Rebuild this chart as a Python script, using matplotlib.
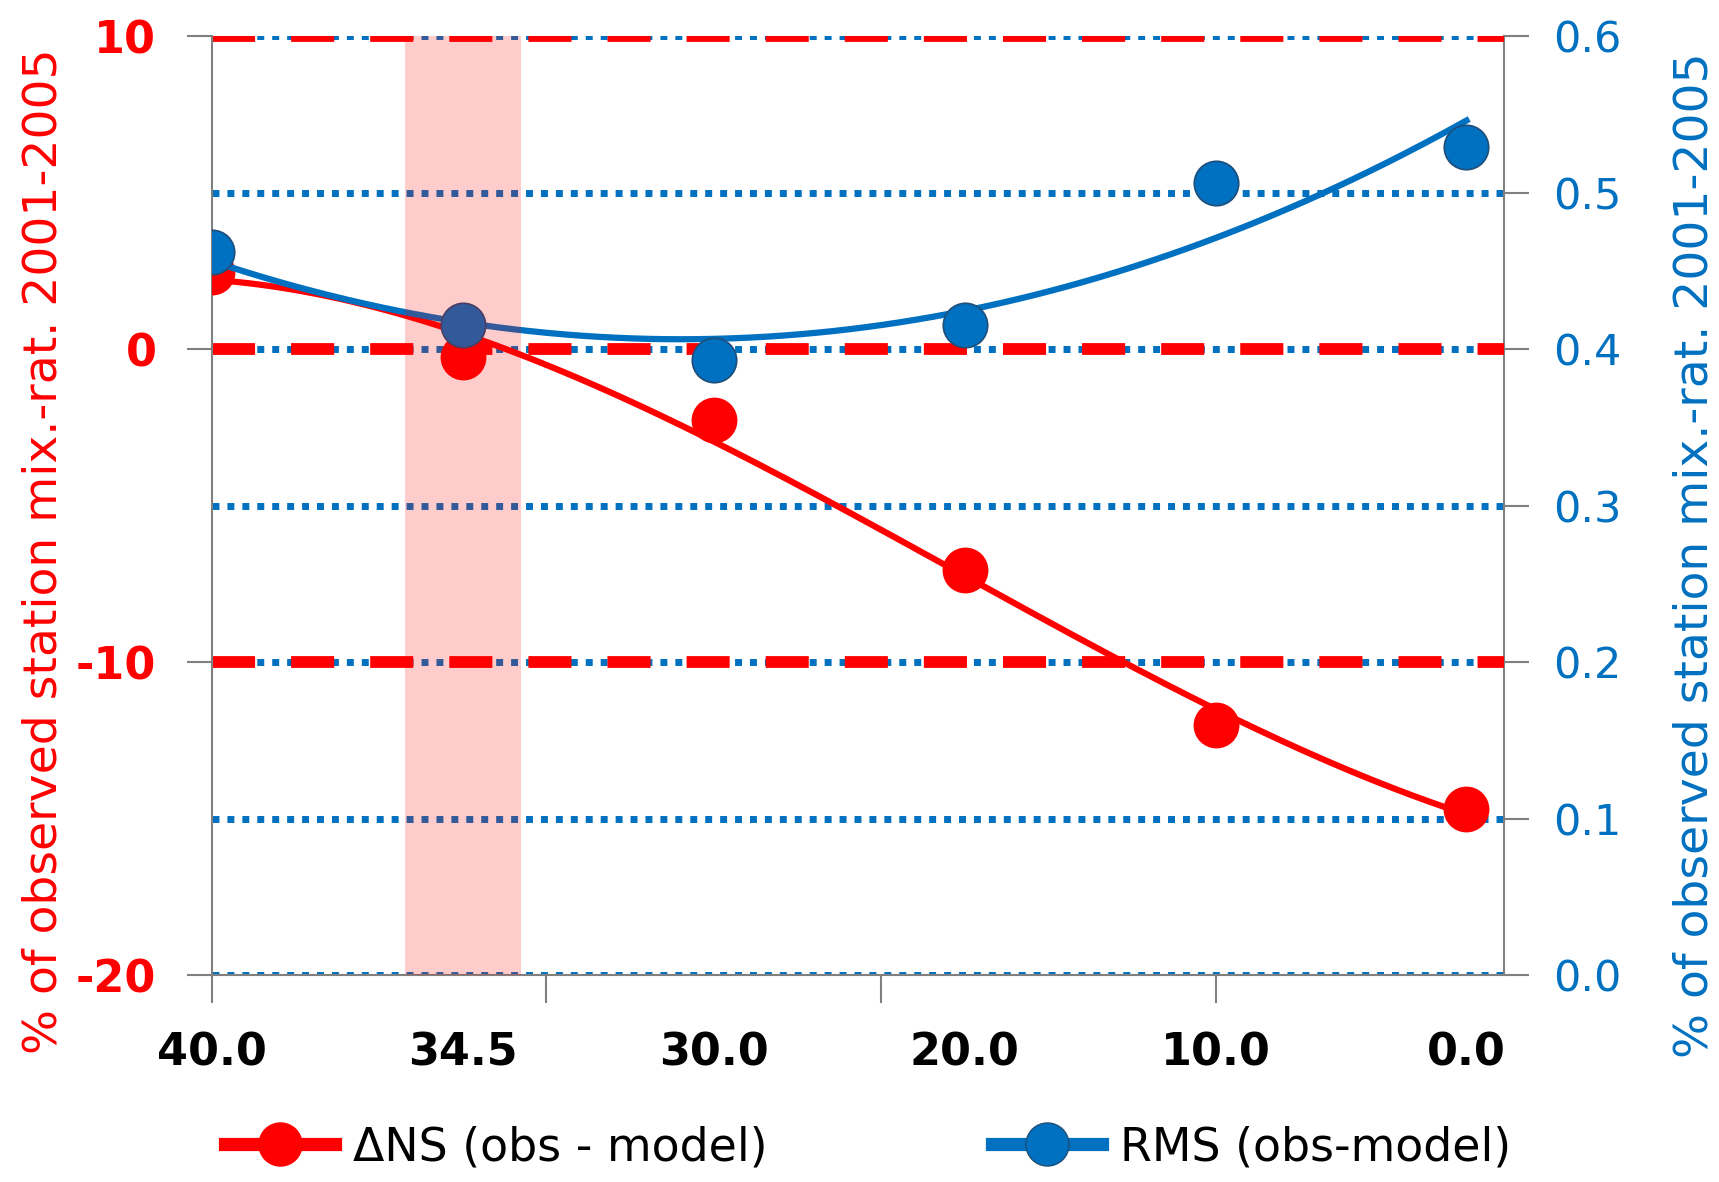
import numpy as np
import matplotlib
matplotlib.use("Agg")
import matplotlib.pyplot as plt
from matplotlib.lines import Line2D

# ---- data ----
x_labels = ["40.0", "34.5", "30.0", "20.0", "10.0", "0.0"]
x_pos = np.arange(len(x_labels))
dns = [2.45, -0.27, -2.28, -7.07, -12.02, -14.68]      # left axis, %
rms = [0.462, 0.4156, 0.393, 0.4156, 0.506, 0.529]     # right axis
shade_lo, shade_hi = 0.77, 1.23                        # highlighted band around 34.5
red_levels = [-10, 0, 10]                              # red dashed reference lines

RED = "#FF0000"
BLUE = "#0070C0"
GRAY = "#808080"

plt.rcParams['font.family'] = ['DejaVu Sans']
plt.rcParams['axes.unicode_minus'] = False

fig = plt.figure(figsize=(17.19, 11.82), dpi=100)
ax = fig.add_axes([0.1233, 0.1751, 0.7517, 0.7944])
ax2 = ax.twinx()
ax3 = ax.twinx()
ax2.set_zorder(0)
ax.set_zorder(1)
ax3.set_zorder(2)
ax.patch.set_visible(False)
ax3.patch.set_visible(False)
ax2.patch.set_facecolor("white")

for a in (ax, ax2, ax3):
    a.set_xlim(0, 5.15)
ax.set_ylim(-20, 10)
ax2.set_ylim(0, 0.6)
ax3.set_ylim(0, 0.6)

# ---- x axis: gridlines every 4/3, category labels centred on points ----
ax.xaxis.remove_overlapping_locs = False
ax.set_xticks(np.arange(0, 5.1, 4 / 3))
ax.set_xticklabels([])
ax.set_xticks(x_pos, x_labels, minor=True)
ax.tick_params(axis="x", which="major", length=20, width=1.5, color=GRAY, direction="out")
ax.tick_params(axis="x", which="minor", length=0, pad=41, labelsize=32, labelcolor="black")
for t in ax.get_xticklabels(minor=True):
    t.set_fontweight("bold")

ax2.grid(axis="x", color=GRAY, lw=1.5)
ax2.set_yticks(np.arange(0, 0.61, 0.1))
ax2.grid(axis="y", color=BLUE, lw=5, linestyle=(0, (1, 1.15)))
ax2.tick_params(axis="y", length=18, width=1.5, color=GRAY, pad=17,
                labelsize=31, labelcolor=BLUE)
ax2.yaxis.set_major_formatter(matplotlib.ticker.FormatStrFormatter("%.1f"))

ax.set_yticks([-20, -10, 0, 10])
ax.grid(axis="x", visible=False)
ax.tick_params(axis="y", length=18, width=1.5, color=GRAY, pad=22,
               labelsize=32, labelcolor=RED)
for t in ax.get_yticklabels():
    t.set_fontweight("bold")
for lev in red_levels:
    ax.axhline(lev, color=RED, lw=8.5, linestyle=(0, (3.65, 3.05)), zorder=1)

# spines
for s in ("top", "right"):
    ax.spines[s].set_visible(False)
for s in ("left", "bottom"):
    ax.spines[s].set_color(GRAY)
    ax.spines[s].set_linewidth(1.5)
for s in ("top", "left", "bottom"):
    ax2.spines[s].set_visible(False)
ax2.spines["right"].set_color(GRAY)
ax2.spines["right"].set_linewidth(1.5)
ax3.axis("off")

# ---- data: markers + polynomial trendlines ----
xf = np.linspace(x_pos[0], x_pos[-1], 300)
red_fit = np.polyval(np.polyfit(x_pos, dns, 3), xf)
blue_fit = np.polyval(np.polyfit(x_pos, rms, 2), xf)

ax.plot(xf, red_fit, color=RED, lw=4.5, zorder=3)
ax.plot(x_pos, dns, "o", ms=32, color=RED, mec=RED, zorder=4)
ax3.plot(xf, blue_fit, color=BLUE, lw=4.5, zorder=3)
ax3.plot(x_pos, rms, "o", ms=32, color=BLUE, mec="#1F4E79", mew=1.2, zorder=4)
ax3.axvspan(shade_lo, shade_hi, color=RED, alpha=0.2, lw=0, zorder=5)

# ---- axis titles ----
ylab = "% of observed station mix.-rat. 2001-2005"
fig.text(0.0256, 0.534, ylab, rotation=90, color=RED, fontsize=34,
         ha="center", va="center")
fig.text(0.986, 0.530, ylab, rotation=90, color=BLUE, fontsize=34,
         ha="center", va="center")

# ---- legend ----
handles = [
    Line2D([], [], color=RED, lw=9.5, marker="o", ms=31, mec=RED),
    Line2D([], [], color=BLUE, lw=9.5, marker="o", ms=31, mec="#1F4E79"),
]
fig.legend(handles, ["\u0394NS (obs - model)", "RMS (obs-model)"],
           loc="center", bbox_to_anchor=(0.505, 0.029), ncol=2, frameon=False,
           fontsize=33, handlelength=2.4, handletextpad=0.4, columnspacing=4.9)

fig.savefig("out.png", dpi=100)
